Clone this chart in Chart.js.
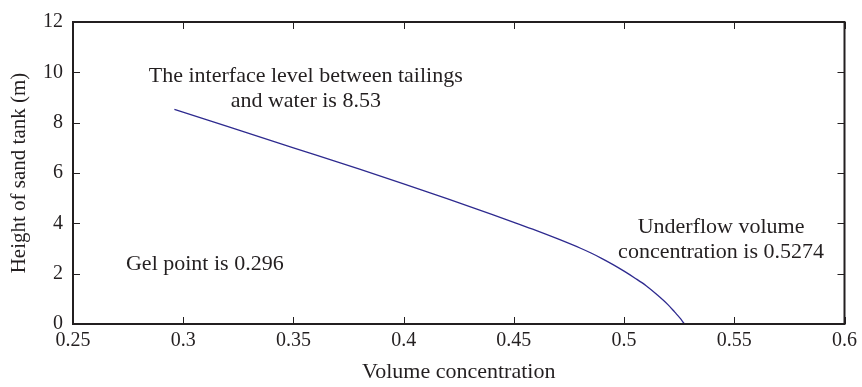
<!DOCTYPE html>
<html>
<head>
<meta charset="utf-8">
<script src="https://cdn.jsdelivr.net/npm/chart.js@4.4.0/dist/chart.umd.min.js"></script>
<style>
  html, body { margin: 0; padding: 0; background: #fff; }
  #wrap { width: 862px; height: 387px; }
</style>
</head>
<body>
<div id="wrap"><canvas id="grafico"></canvas></div>
<script>
// datos
const concentracion = [0.296, 0.32, 0.35, 0.38, 0.40, 0.42, 0.44, 0.45, 0.46, 0.47, 0.48, 0.485, 0.49, 0.495, 0.50, 0.505, 0.51, 0.515, 0.52, 0.523, 0.5255, 0.5268, 0.5274];
const altura = [8.53, 7.85, 7.00, 6.15, 5.57, 4.97, 4.355, 4.04, 3.72, 3.38, 3.02, 2.82, 2.60, 2.36, 2.10, 1.82, 1.52, 1.16, 0.76, 0.47, 0.22, 0.07, 0];

const ticksX = [0.25, 0.3, 0.35, 0.4, 0.45, 0.5, 0.55, 0.6];
const ticksY = [0, 2, 4, 6, 8, 10, 12];

// anotaciones (texto y posicion en coordenadas de datos)
const notasTexto = ['The interface level between tailings', 'and water is 8.53', 'Gel point is 0.296', 'Underflow volume', 'concentration is 0.5274'];
const notasX = [0.3556, 0.3556, 0.3098, 0.5440, 0.5440];
const notasY = [9.83, 8.86, 2.36, 3.83, 2.86];

const COLOR_TEXTO = '#231f20';
const FUENTE = "'Liberation Serif', 'Times New Roman', serif";

const marcoYNotas = {
    id: 'marcoYNotas',
    afterDraw: (chart) => {
        const ctx = chart.ctx;
        const a = chart.chartArea;
        const sx = chart.scales.x;
        const sy = chart.scales.y;
        ctx.save();
        ctx.strokeStyle = COLOR_TEXTO;
        // marcas hacia adentro en los cuatro lados
        ctx.lineWidth = 1;
        ctx.beginPath();
        ticksX.forEach(v => {
            const px = Math.round(sx.getPixelForValue(v)) + 0.5;
            ctx.moveTo(px, a.bottom); ctx.lineTo(px, a.bottom - 7);
            ctx.moveTo(px, a.top); ctx.lineTo(px, a.top + 7);
        });
        ticksY.forEach(v => {
            const py = Math.round(sy.getPixelForValue(v)) + 0.5;
            ctx.moveTo(a.left, py); ctx.lineTo(a.left + 7, py);
            ctx.moveTo(a.right, py); ctx.lineTo(a.right - 7, py);
        });
        ctx.stroke();
        // marco
        ctx.lineWidth = 2;
        ctx.strokeRect(a.left, a.top, a.right - a.left, a.bottom - a.top);
        // textos
        ctx.fillStyle = COLOR_TEXTO;
        ctx.font = '22px ' + FUENTE;
        ctx.textAlign = 'center';
        ctx.textBaseline = 'middle';
        notasTexto.forEach((t, i) => {
            ctx.fillText(t, sx.getPixelForValue(notasX[i]), sy.getPixelForValue(notasY[i]));
        });
        ctx.restore();
    }
};

new Chart(document.getElementById('grafico').getContext('2d'), {
    type: 'scatter',
    data: {
        datasets: [{
            data: concentracion.map((c, i) => ({ x: c, y: altura[i] })),
            showLine: true,
            borderColor: '#2e2a8f',
            borderWidth: 1.3,
            pointRadius: 0,
            cubicInterpolationMode: 'monotone',
            fill: false
        }]
    },
    options: {
        responsive: true,
        maintainAspectRatio: false,
        animation: false,
        layout: { padding: { left: 0, right: 17, top: 14, bottom: 0 } },
        plugins: {
            legend: { display: false },
            tooltip: { enabled: false }
        },
        scales: {
            x: {
                type: 'linear',
                min: 0.25,
                max: 0.6,
                afterBuildTicks: (s) => { s.ticks = ticksX.map(v => ({ value: v })); },
                afterFit: (s) => { s.height = 63; },
                grid: { display: false, drawTicks: false },
                border: { display: false },
                ticks: {
                    color: COLOR_TEXTO,
                    font: { family: FUENTE, size: 20 },
                    padding: 5,
                    maxRotation: 0,
                    callback: (v) => String(Number(v.toFixed(2)))
                },
                title: {
                    display: true,
                    text: 'Volume concentration',
                    color: COLOR_TEXTO,
                    font: { family: FUENTE, size: 22 },
                    padding: { top: 0, bottom: 2 }
                }
            },
            y: {
                min: 0,
                max: 12,
                afterBuildTicks: (s) => { s.ticks = ticksY.map(v => ({ value: v })); },
                afterFit: (s) => { s.width = 73; },
                grid: { display: false, drawTicks: false },
                border: { display: false },
                ticks: {
                    color: COLOR_TEXTO,
                    font: { family: FUENTE, size: 20 },
                    padding: 10
                },
                title: {
                    display: true,
                    text: 'Height of sand tank (m)',
                    color: COLOR_TEXTO,
                    font: { family: FUENTE, size: 21 },
                    padding: { top: 7, bottom: 0 }
                }
            }
        }
    },
    plugins: [marcoYNotas]
});
</script>
</body>
</html>
